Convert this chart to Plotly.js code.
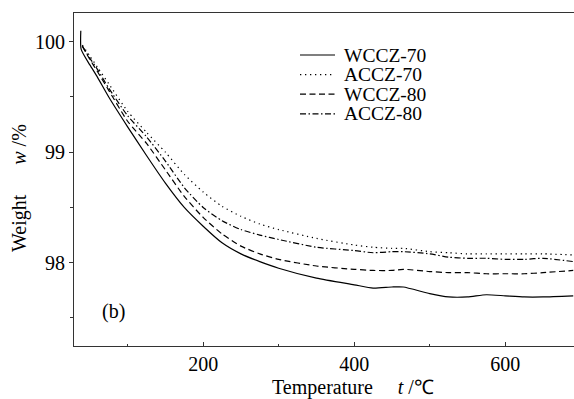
<!DOCTYPE html>
<html>
<head>
<meta charset="utf-8">
<script src="https://cdn.plot.ly/plotly-3.0.1.min.js"></script>
<style>
html,body{margin:0;padding:0;background:#fff;}
#chart{width:574px;height:399px;}
#chart text{font-family:"Liberation Serif","Times New Roman",serif !important;}
</style>
</head>
<body>
<div id="chart"></div>
<script>
// Temperatures (°C)
const tempSolid = [38, 38.5, 50, 60, 75, 100, 125, 150, 175, 200, 225, 250, 275, 300, 350, 400, 425, 450, 465, 500, 525, 550, 575, 600, 625, 650, 690];
const temps = [40, 50, 60, 75, 100, 125, 150, 175, 200, 225, 250, 275, 300, 350, 400, 425, 450, 465, 500, 525, 550, 575, 600, 625, 650, 690];

// Weight w/% per series
const wccz70 = [100.10, 99.93, 99.79, 99.68, 99.50, 99.23, 98.97, 98.72, 98.50, 98.33, 98.18, 98.08, 98.01, 97.95, 97.86, 97.80, 97.77, 97.78, 97.78, 97.72, 97.69, 97.69, 97.71, 97.70, 97.69, 97.69, 97.70];
const accz70 = [99.97, 99.87, 99.77, 99.62, 99.37, 99.18, 99.00, 98.80, 98.64, 98.51, 98.42, 98.35, 98.30, 98.22, 98.16, 98.14, 98.13, 98.13, 98.10, 98.09, 98.08, 98.08, 98.08, 98.08, 98.08, 98.07];
const wccz80 = [99.96, 99.84, 99.73, 99.56, 99.28, 99.08, 98.84, 98.60, 98.41, 98.26, 98.15, 98.08, 98.03, 97.97, 97.94, 97.93, 97.93, 97.94, 97.92, 97.91, 97.91, 97.90, 97.90, 97.90, 97.91, 97.93];
const accz80 = [99.96, 99.85, 99.75, 99.58, 99.33, 99.14, 98.92, 98.68, 98.50, 98.38, 98.30, 98.25, 98.21, 98.14, 98.11, 98.09, 98.10, 98.10, 98.08, 98.05, 98.04, 98.04, 98.03, 98.03, 98.04, 98.01];

const seriesNames = ["WCCZ-70", "ACCZ-70", "WCCZ-80", "ACCZ-80"];
const xTickVals = [200, 400, 600];
const yTickVals = [98, 99, 100];

const dashes = ["solid", "1.3px,3.7px", "6px,3.5px", "6px,2.5px,1.5px,2.5px"];
const xs = [tempSolid, temps, temps, temps];
const ys = [wccz70, accz70, wccz80, accz80];

const font = "Liberation Serif, Times New Roman, serif";

const traces = seriesNames.map((n, i) => ({
  x: xs[i], y: ys[i], name: n, type: "scatter", mode: "lines",
  line: {color: "#000", width: 1.2, dash: dashes[i], shape: "spline", smoothing: 0.6},
  showlegend: false
}));

// manual legend (line samples + labels)
const legX0 = (300 - 74) / 500, legX1 = (335 - 74) / 500, legTX = (343 - 74) / 500;
const legRows = [55, 74.6, 94.2, 113.8];
const shapes = [];
const annotations = [];
seriesNames.forEach((n, i) => {
  const yp = (346 - legRows[i]) / 333;
  shapes.push({type: "line", xref: "paper", yref: "paper", x0: legX0, x1: legX1, y0: yp, y1: yp,
    line: {color: "#000", width: 1.2, dash: dashes[i]}});
  annotations.push({xref: "paper", yref: "paper", x: legTX, y: yp, xanchor: "left", yanchor: "middle",
    text: n, showarrow: false, borderpad: 0,
    font: {family: font, size: 19.5, color: "#000"}});
});
annotations.push({xref: "paper", yref: "paper", x: (100 - 74) / 500, y: (346 - 311.7) / 333,
  xanchor: "left", yanchor: "middle", text: "(b)", showarrow: false,
  font: {family: font, size: 20, color: "#000"}});
annotations.push({xref: "paper", yref: "paper", x: (353 - 74) / 500, y: -(387 - 346) / 333,
  xanchor: "center", yanchor: "middle", showarrow: false,
  text: "Temperature&nbsp;&nbsp;&nbsp;&nbsp;&nbsp;<i>t</i> /℃",
  font: {family: font, size: 20, color: "#000"}});
annotations.push({xref: "paper", yref: "paper", x: -(74 - 19) / 500, y: (346 - 188) / 333,
  xanchor: "center", yanchor: "middle", showarrow: false, textangle: -90,
  text: "Weight&nbsp;&nbsp;&nbsp;&nbsp;&nbsp;&nbsp;<i>w</i> /%",
  font: {family: font, size: 20, color: "#000"}});

const layout = {
  width: 574, height: 399,
  margin: {l: 74, r: 0, t: 13, b: 53},
  paper_bgcolor: "#fff", plot_bgcolor: "#fff",
  font: {family: font, size: 20, color: "#000"},
  xaxis: {
    range: [29, 691], tickvals: xTickVals, ticks: "inside", ticklen: 4, tickcolor: "#333",
    showline: true, linecolor: "#333", linewidth: 1, mirror: true, showgrid: false, zeroline: false,
    minor: {tickvals: [100, 300, 500], ticks: "inside", ticklen: 2.5, tickcolor: "#333"},
    tickfont: {family: font, size: 20, color: "#000"}
  },
  yaxis: {
    range: [97.246, 100.26], tickvals: yTickVals, ticks: "outside", ticklen: 4, tickcolor: "#333",
    showline: true, linecolor: "#333", linewidth: 1, mirror: false, showgrid: false, zeroline: false,
    minor: {tickvals: [97.5, 98.5, 99.5], ticks: "outside", ticklen: 3, tickcolor: "#333"},
    tickfont: {family: font, size: 20, color: "#000"}
  },
  shapes: shapes,
  annotations: annotations,
  showlegend: false
};

Plotly.newPlot("chart", traces, layout, {staticPlot: true, displayModeBar: false});
</script>
</body>
</html>
